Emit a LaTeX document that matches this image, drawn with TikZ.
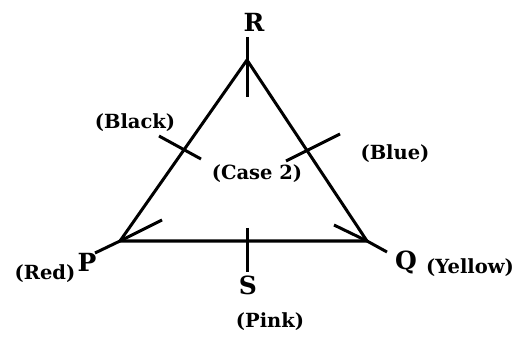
\documentclass[tikz,border=0pt]{standalone}
\usepackage{fontspec}
\setmainfont{DejaVu Serif}
\begin{document}
\begin{tikzpicture}[x=1pt,y=-1pt,
  edge/.style={line width=3pt,line cap=butt,line join=miter},
  big/.style={font=\fontsize{25}{25}\selectfont\bfseries,inner sep=0pt},
  lab/.style={font=\fontsize{19.5}{19.5}\selectfont\bfseries,inner sep=0pt}]
\useasboundingbox (0,0) rectangle (522,339);
% vertices
\coordinate (P) at (120,241);
\coordinate (Q) at (367,241);
\coordinate (R) at (247,60);
\coordinate (Pe) at (95,253);
\coordinate (Qe) at (387,252);
\coordinate (Pa) at (162,220);
\coordinate (Qa) at (334,225);
\coordinate (Rt1) at (247,37);
\coordinate (Rt2) at (247,97);
\coordinate (St1) at (247,228);
\coordinate (St2) at (247,272);
\coordinate (Bk1) at (159,136);
\coordinate (Bk2) at (201,159);
\coordinate (Bl1) at (340,134);
\coordinate (Bl2) at (286,161);
\draw[edge] (P) -- (R) -- (Q) -- cycle;
\draw[edge] (P) -- (Pe);
\draw[edge] (Q) -- (Qe);
\draw[edge] (P) -- (Pa);
\draw[edge] (Q) -- (Qa);
\draw[edge] (Rt1) -- (Rt2);
\draw[edge] (St1) -- (St2);
\draw[edge] (Bk1) -- (Bk2);
\draw[edge] (Bl1) -- (Bl2);
% labels
\node[big] (lR) at (254,22) {R};
\node[big] (lP) at (87,262) {P};
\node[big] (lQ) at (406,262) {Q};
\node[big] (lS) at (248,285) {S};
\node[lab] (lBlack) at (135,123) {(Black)};
\node[lab] (lBlue) at (395,154) {(Blue)};
\node[lab] (lCase) at (257,174) {(Case 2)};
\node[lab] (lRed) at (45,274) {(Red)};
\node[lab] (lYellow) at (470,268) {(Yellow)};
\node[lab] (lPink) at (270,322) {(Pink)};
\end{tikzpicture}
\end{document}
